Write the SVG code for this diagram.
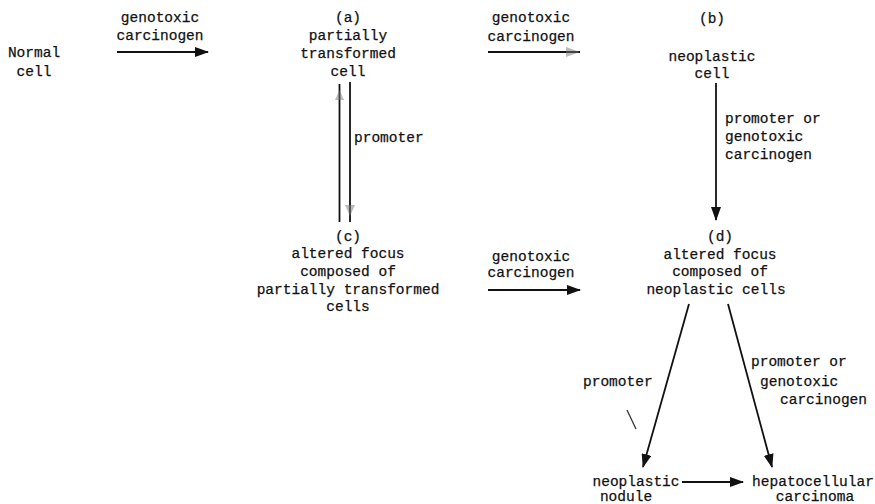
<svg xmlns="http://www.w3.org/2000/svg" width="875" height="504" viewBox="0 0 875 504">
  <style>
    text { font-family: "Liberation Mono", "DejaVu Sans Mono", monospace; font-size: 14.5px; fill: #111; stroke: #111; stroke-width: 0.25; }
    .c { text-anchor: middle; }
    .edge { stroke: #111; stroke-width: 1.8; fill: none; }
    .faint { fill: #777; opacity: 0.5; }
  </style>
  <defs>
    <marker id="head" viewBox="0 0 14 10" refX="13" refY="5" markerWidth="14" markerHeight="10" markerUnits="userSpaceOnUse" orient="auto">
      <path d="M0,0 L14,5 L0,10 Z" fill="#111"/>
    </marker>
  </defs>

  <rect width="875" height="504" fill="#fff"/>

  <g id="normal-cell">
    <text class="c" x="34" y="57">Normal</text>
    <text class="c" x="34" y="76">cell</text>
  </g>

  <g id="node-a">
    <text class="c" x="348" y="22">(a)</text>
    <text class="c" x="348" y="40">partially</text>
    <text class="c" x="348" y="58">transformed</text>
    <text class="c" x="348" y="76">cell</text>
  </g>

  <g id="node-b">
    <text class="c" x="712" y="23">(b)</text>
    <text class="c" x="712" y="61">neoplastic</text>
    <text class="c" x="712" y="78">cell</text>
  </g>

  <g id="node-c">
    <text class="c" x="348" y="241">(c)</text>
    <text class="c" x="348" y="258">altered focus</text>
    <text class="c" x="348" y="276">composed of</text>
    <text class="c" x="348" y="294">partially transformed</text>
    <text class="c" x="348" y="311">cells</text>
  </g>

  <g id="node-d">
    <text class="c" x="720" y="241">(d)</text>
    <text class="c" x="720" y="259">altered focus</text>
    <text class="c" x="720" y="276">composed of</text>
    <text class="c" x="716" y="294">neoplastic cells</text>
  </g>

  <g id="nodule">
    <text class="c" x="636" y="486">neoplastic</text>
    <text class="c" x="626" y="501">nodule</text>
  </g>

  <g id="carcinoma">
    <text class="c" x="813" y="486">hepatocellular</text>
    <text class="c" x="815" y="501">carcinoma</text>
  </g>

  <g id="connectors">
    <!-- normal cell to (a) -->
    <line class="edge" x1="117" y1="52" x2="208" y2="52" marker-end="url(#head)"/>
    <text class="c" x="160" y="22">genotoxic</text>
    <text class="c" x="160" y="40">carcinogen</text>

    <!-- (a) to (b) -->
    <line class="edge" x1="488" y1="52" x2="580" y2="52"/>
    <path class="faint" d="M566,47 L580,52 L566,57 Z"/>
    <text class="c" x="531" y="22">genotoxic</text>
    <text class="c" x="531" y="41">carcinogen</text>

    <!-- (a) and (c), both ways -->
    <line class="edge" x1="339.5" y1="84" x2="339.5" y2="222"/>
    <path class="faint" d="M335,100 L339.5,90 L344,100 Z"/>
    <line class="edge" x1="350" y1="82" x2="350" y2="222"/>
    <path class="faint" d="M345,205 L350,216 L355,205 Z"/>
    <text x="354" y="142">promoter</text>

    <!-- (b) to (d) -->
    <line class="edge" x1="716" y1="83" x2="716" y2="220" marker-end="url(#head)"/>
    <text x="725" y="123">promoter or</text>
    <text x="725" y="141">genotoxic</text>
    <text x="725" y="159">carcinogen</text>

    <!-- (c) to (d) -->
    <line class="edge" x1="488" y1="290" x2="580" y2="290" marker-end="url(#head)"/>
    <text class="c" x="531" y="261">genotoxic</text>
    <text class="c" x="531" y="277">carcinogen</text>

    <!-- (d) to nodule -->
    <line class="edge" x1="689" y1="304" x2="643" y2="467" marker-end="url(#head)"/>
    <text x="583" y="386">promoter</text>
    <line x1="627" y1="410" x2="636" y2="429" stroke="#333" stroke-width="1.3"/>

    <!-- (d) to carcinoma -->
    <line class="edge" x1="728" y1="304" x2="772" y2="467" marker-end="url(#head)"/>
    <text x="751" y="366">promoter or</text>
    <text x="760" y="386">genotoxic</text>
    <text x="780" y="404">carcinogen</text>

    <!-- nodule to carcinoma -->
    <line class="edge" x1="682" y1="482" x2="743" y2="482" marker-end="url(#head)"/>
  </g>
</svg>
